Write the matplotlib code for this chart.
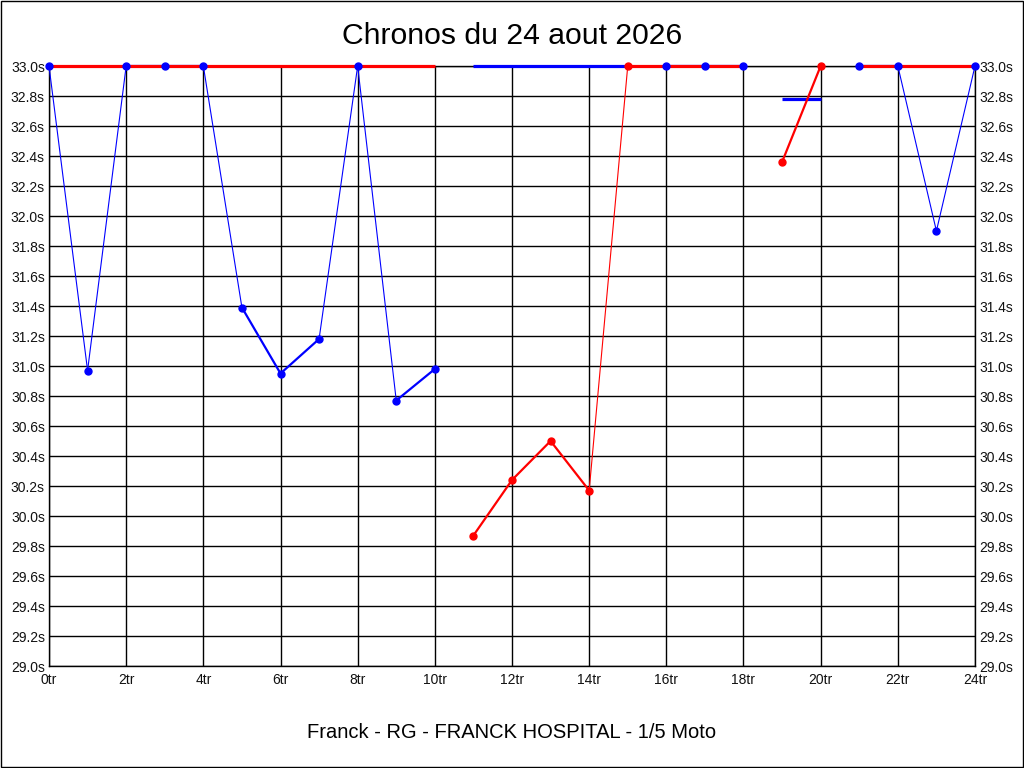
import numpy as np
import matplotlib.pyplot as plt
from matplotlib.ticker import MultipleLocator, FuncFormatter

# laps (tr) and lap times (s)
blue_x = [0, 1, 2, 3, 4, 5, 6, 7, 8, 9, 10, 16, 17, 18, 21, 22, 23, 24]
blue_y = [33.0, 30.97, 33.0, 33.0, 33.0, 31.39, 30.95, 31.18, 33.0, 30.77, 30.98,
          33.0, 33.0, 33.0, 33.0, 33.0, 31.90, 33.0]
blue_runs = [(0, 10), (16, 18), (21, 24)]

red_x = [11, 12, 13, 14, 15, 19, 20]
red_y = [29.87, 30.24, 30.50, 30.17, 33.0, 32.36, 33.0]
red_runs = [(11, 15), (19, 20)]

# flat lines without markers (start lap, end lap, time)
red_flat = [(0, 10, 33.0), (15, 18, 33.0), (21, 24, 33.0)]
blue_flat = [(11, 15, 33.0), (19, 20, 32.78)]

title = 'Chronos du 24 aout 2026'
footer = 'Franck - RG - FRANCK HOSPITAL - 1/5 Moto'

BLUE = '#0000ff'
RED = '#ff0000'
FONT = ['Liberation Sans', 'DejaVu Sans']

fig = plt.figure(figsize=(10.24, 7.68), dpi=100)
fig.patch.set_facecolor('white')
ax = fig.add_axes([49 / 1024, 1 - 666 / 768, 926 / 1024, 600 / 768])

ax.set_xlim(0, 24)
ax.set_ylim(29.0, 33.0)


def draw_series(xs, ys, runs, color):
    pts = dict(zip(xs, ys))
    for a, b in runs:
        for i in range(a, b):
            y0, y1 = pts[i], pts[i + 1]
            lw = 0.8 if abs(y1 - y0) > 1.0 else 1.6
            ax.plot([i, i + 1], [y0, y1], color=color, lw=lw, zorder=3,
                    solid_capstyle='butt', clip_on=False)


draw_series(blue_x, blue_y, blue_runs, BLUE)
for a, b, v in blue_flat:
    ax.plot([a, b], [v, v], color=BLUE, lw=2.3, zorder=3, solid_capstyle='butt',
            clip_on=False)

draw_series(red_x, red_y, red_runs, RED)
for a, b, v in red_flat:
    ax.plot([a, b], [v, v], color=RED, lw=2.3, zorder=4, solid_capstyle='butt',
            clip_on=False)

ax.plot(blue_x, blue_y, 'o', color=BLUE, ms=5, zorder=6, clip_on=False)
ax.plot(red_x, red_y, 'o', color=RED, ms=5, zorder=6, clip_on=False)

ax.xaxis.set_major_locator(MultipleLocator(2))
ax.yaxis.set_major_locator(MultipleLocator(0.2))
ax.xaxis.set_major_formatter(FuncFormatter(lambda v, p: '%dtr' % round(v)))
ax.yaxis.set_major_formatter(FuncFormatter(lambda v, p: '%.1fs' % v))
ax.grid(True, color='black', lw=1.0)
ax.set_axisbelow(True)
for s in ax.spines.values():
    s.set_color('black')
    s.set_linewidth(1.0)

ax.tick_params(length=0, labelsize=10, colors='#111111', pad=3)
ax.tick_params(axis='x', pad=5)
ax.tick_params(axis='y', right=True, labelright=True)
for lab in ax.get_xticklabels() + ax.get_yticklabels():
    lab.set_family(FONT)

fig.text(0.5, 1 - 36 / 768, title, ha='center', va='center', fontsize=21.7,
         family=FONT)
fig.text(0.5, 1 - 733 / 768, footer, ha='center', va='center', fontsize=14.5,
         family=FONT)

# outer frame
fig.add_artist(plt.Rectangle((0.0005, 0.0007), 0.999, 0.9986, transform=fig.transFigure,
                             fill=False, edgecolor='black', lw=1.0))

fig.savefig('out.png', dpi=100)
